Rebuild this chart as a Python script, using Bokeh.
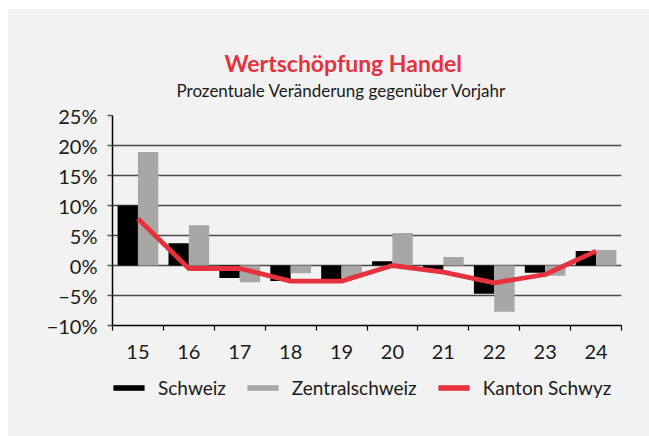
from bokeh.plotting import figure
from bokeh.layouts import column
from bokeh.models import (Range1d, FixedTicker, Title, Legend, LegendItem,
                          ColumnDataSource)
from bokeh.transform import dodge
from bokeh.embed import file_html
from bokeh.resources import INLINE

# ---- data ----
years = ["15", "16", "17", "18", "19", "20", "21", "22", "23", "24"]
schweiz = [10.0, 3.7, -2.1, -2.6, -2.3, 0.7, -0.7, -4.7, -1.2, 2.4]
zentralschweiz = [18.9, 6.7, -2.8, -1.3, -2.0, 5.4, 1.4, -7.7, -1.7, 2.6]
kanton_schwyz = [7.8, -0.5, -0.5, -2.6, -2.6, 0.0, -1.1, -2.9, -1.5, 2.4]
y_ticks = [-10, -5, 0, 5, 10, 15, 20, 25]
y_tick_labels = ["\u221210%", "\u22125%", "0%", "5%", "10%", "15%", "20%", "25%"]
title_text = "Wertschöpfung Handel"
subtitle_text = "Prozentuale Veränderung gegenüber Vorjahr"
series_names = ["Schweiz", "Zentralschweiz", "Kanton Schwyz"]

# ---- styles ----
BG = "#F2F2F2"
BLACK = "#000000"
GRAY = "#A8A7A5"
RED = "#E5323E"
FONT = "Lato"
TXT = "#1a1a1a"

centers = [i + 0.5 for i in range(len(years))]
bounds = [float(i) for i in range(len(years) + 1)]
src = ColumnDataSource(dict(x=centers, s=schweiz, z=zentralschweiz, k=kanton_schwyz))

p = figure(frame_width=509, frame_height=210, output_backend="svg", toolbar_location=None,
           x_range=Range1d(0, len(years)), y_range=Range1d(-10, 25),
           min_border_left=104, min_border_right=28, min_border_top=106,
           min_border_bottom=48, title=None)
p.background_fill_color = BG
p.border_fill_color = BG
p.outline_line_color = None

r_s = p.vbar(x=dodge("x", -0.2, range=p.x_range), top="s", bottom=0, width=0.4,
             source=src, fill_color=BLACK, line_color=None)
r_z = p.vbar(x=dodge("x", 0.2, range=p.x_range), top="z", bottom=0, width=0.4,
             source=src, fill_color=GRAY, line_color=None)
r_k = p.line(x="x", y="k", source=src, line_color=RED, line_width=4.8)

# y axis
p.yaxis.ticker = FixedTicker(ticks=y_ticks)
p.yaxis.major_label_overrides = {t: l for t, l in zip(y_ticks, y_tick_labels)}
p.yaxis.axis_line_color = BLACK
p.yaxis.axis_line_width = 1.5
p.yaxis.major_tick_in = 0
p.yaxis.major_tick_out = 5
p.yaxis.major_tick_line_color = "#555555"
p.yaxis.major_tick_line_width = 1.5
p.yaxis.minor_tick_line_color = None
p.yaxis.major_label_standoff = 10
p.yaxis.major_label_text_font = FONT
p.yaxis.major_label_text_font_size = "20px"
p.yaxis.major_label_text_color = TXT

# x axis
p.xaxis.ticker = FixedTicker(ticks=centers, minor_ticks=bounds)
p.xaxis.major_label_overrides = {c: y for c, y in zip(centers, years)}
p.xaxis.axis_line_color = BLACK
p.xaxis.axis_line_width = 1.5
p.xaxis.major_tick_line_color = None
p.xaxis.major_tick_in = 0
p.xaxis.major_tick_out = 0
p.xaxis.minor_tick_in = 0
p.xaxis.minor_tick_out = 5
p.xaxis.minor_tick_line_color = BLACK
p.xaxis.minor_tick_line_width = 1.2
p.xaxis.major_label_standoff = 14
p.xaxis.major_label_text_font = FONT
p.xaxis.major_label_text_font_size = "20px"
p.xaxis.major_label_text_color = TXT

p.xgrid.grid_line_color = None
p.ygrid.ticker = FixedTicker(ticks=y_ticks)
p.ygrid.grid_line_color = "#4a4a4a"
p.ygrid.grid_line_width = 1.5

# titles (subtitle first = closest to the plot)
p.add_layout(Title(text=subtitle_text, align="left", offset=64, standoff=30,
                   text_font=FONT, text_font_style="normal", text_font_size="17px",
                   text_color=TXT), "above")
p.add_layout(Title(text=title_text, align="left", offset=112, standoff=-28,
                   text_font=FONT, text_font_style="bold", text_font_size="23px",
                   text_color=RED), "above")

# ---- legend strip (separate figure below, same background) ----
q = figure(frame_width=509, frame_height=63, output_backend="svg", toolbar_location=None,
           x_range=Range1d(0, len(years)), y_range=Range1d(-10, 25),
           min_border_left=104, min_border_right=28, min_border_top=0,
           min_border_bottom=0, x_axis_type=None, y_axis_type=None, title=None)
q.background_fill_color = BG
q.border_fill_color = BG
q.outline_line_color = None
q.xgrid.grid_line_color = None
q.ygrid.grid_line_color = None
# zero-width bars: they only supply the legend swatches
leg_renderers = [q.vbar(x="x", top=col, bottom=0, width=0, source=src,
                        fill_color=c, line_color=None)
                 for col, c in zip(["s", "z", "k"], [BLACK, GRAY, RED])]

legend = Legend(items=[LegendItem(label=n, renderers=[r]) for n, r in
                       zip(series_names, leg_renderers)],
                location=(-3, 37), orientation="horizontal",
                glyph_width=39, glyph_height=7, label_standoff=10, spacing=17,
                padding=0, margin=0, border_line_color=None,
                background_fill_alpha=0, label_text_font=FONT,
                label_text_font_size="19px", label_text_color=TXT)
q.add_layout(legend, "center")

layout = column(p, q, spacing=0, styles={"background-color": BG})
layout.margin = (9, 0, 0, 8)
open("out.html", "w").write(file_html(layout, INLINE))
